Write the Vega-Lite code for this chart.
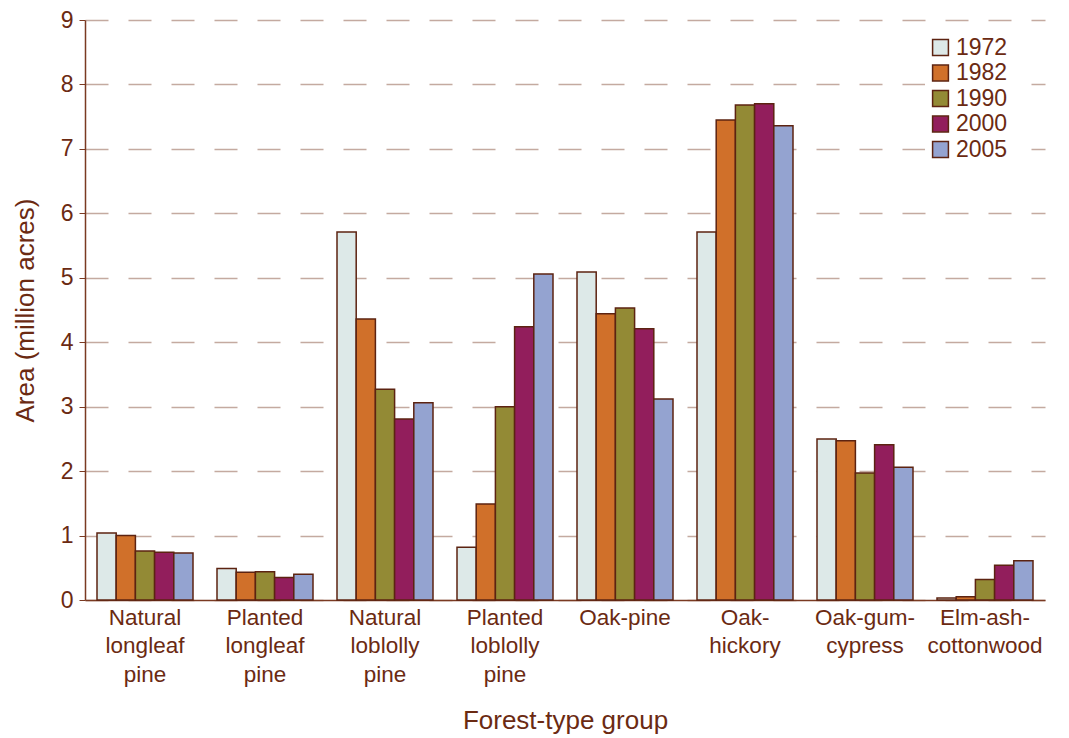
{
  "$schema": "https://vega.github.io/schema/vega-lite/v6.json",
  "autosize": {"type": "none"},
  "width": 960,
  "height": 580,
  "padding": {"left": 85, "top": 20, "right": 24, "bottom": 138},
  "background": "white",
  "config": {
    "font": "Liberation Sans",
    "view": {"stroke": null},
    "axis": {"labelColor": "#6b2a12", "titleColor": "#6b2a12", "domainColor": "#7a3a22", "tickColor": "#7a3a22", "labelFont": "Liberation Sans", "titleFont": "Liberation Sans", "titleFontWeight": "normal"}
  },
  "data": {
    "values": [
      {"group": "Natural longleaf pine", "year": "1972", "area": 1.04},
      {"group": "Natural longleaf pine", "year": "1982", "area": 1.0},
      {"group": "Natural longleaf pine", "year": "1990", "area": 0.76},
      {"group": "Natural longleaf pine", "year": "2000", "area": 0.74},
      {"group": "Natural longleaf pine", "year": "2005", "area": 0.73},
      {"group": "Planted longleaf pine", "year": "1972", "area": 0.49},
      {"group": "Planted longleaf pine", "year": "1982", "area": 0.43},
      {"group": "Planted longleaf pine", "year": "1990", "area": 0.44},
      {"group": "Planted longleaf pine", "year": "2000", "area": 0.35},
      {"group": "Planted longleaf pine", "year": "2005", "area": 0.40},
      {"group": "Natural loblolly pine", "year": "1972", "area": 5.71},
      {"group": "Natural loblolly pine", "year": "1982", "area": 4.36},
      {"group": "Natural loblolly pine", "year": "1990", "area": 3.27},
      {"group": "Natural loblolly pine", "year": "2000", "area": 2.81},
      {"group": "Natural loblolly pine", "year": "2005", "area": 3.06},
      {"group": "Planted loblolly pine", "year": "1972", "area": 0.82},
      {"group": "Planted loblolly pine", "year": "1982", "area": 1.49},
      {"group": "Planted loblolly pine", "year": "1990", "area": 3.0},
      {"group": "Planted loblolly pine", "year": "2000", "area": 4.24},
      {"group": "Planted loblolly pine", "year": "2005", "area": 5.06},
      {"group": "Oak-pine", "year": "1972", "area": 5.09},
      {"group": "Oak-pine", "year": "1982", "area": 4.44},
      {"group": "Oak-pine", "year": "1990", "area": 4.53},
      {"group": "Oak-pine", "year": "2000", "area": 4.21},
      {"group": "Oak-pine", "year": "2005", "area": 3.12},
      {"group": "Oak-hickory", "year": "1972", "area": 5.71},
      {"group": "Oak-hickory", "year": "1982", "area": 7.45},
      {"group": "Oak-hickory", "year": "1990", "area": 7.68},
      {"group": "Oak-hickory", "year": "2000", "area": 7.7},
      {"group": "Oak-hickory", "year": "2005", "area": 7.36},
      {"group": "Oak-gum-cypress", "year": "1972", "area": 2.5},
      {"group": "Oak-gum-cypress", "year": "1982", "area": 2.47},
      {"group": "Oak-gum-cypress", "year": "1990", "area": 1.97},
      {"group": "Oak-gum-cypress", "year": "2000", "area": 2.41},
      {"group": "Oak-gum-cypress", "year": "2005", "area": 2.06},
      {"group": "Elm-ash-cottonwood", "year": "1972", "area": 0.03},
      {"group": "Elm-ash-cottonwood", "year": "1982", "area": 0.05},
      {"group": "Elm-ash-cottonwood", "year": "1990", "area": 0.32},
      {"group": "Elm-ash-cottonwood", "year": "2000", "area": 0.54},
      {"group": "Elm-ash-cottonwood", "year": "2005", "area": 0.61}
    ]
  },
  "mark": {"type": "bar", "stroke": "#5c2311", "strokeWidth": 1.5},
  "encoding": {
    "x": {
      "field": "group",
      "type": "nominal",
      "sort": null,
      "scale": {"paddingInner": 0.2, "paddingOuter": 0.1},
      "axis": {
        "title": "Forest-type group",
        "titleFontSize": 26,
        "titlePadding": 22,
        "labelFontSize": 22.5,
        "labelAngle": 0,
        "labelLineHeight": 28.5,
        "labelPadding": 6,
        "ticks": false,
        "domainWidth": 1.5,
        "labelExpr": "{'Natural longleaf pine':['Natural','longleaf','pine'],'Planted longleaf pine':['Planted','longleaf','pine'],'Natural loblolly pine':['Natural','loblolly','pine'],'Planted loblolly pine':['Planted','loblolly','pine'],'Oak-pine':['Oak-pine'],'Oak-hickory':['Oak-','hickory'],'Oak-gum-cypress':['Oak-gum-','cypress'],'Elm-ash-cottonwood':['Elm-ash-','cottonwood']}[datum.value]"
      }
    },
    "xOffset": {"field": "year", "type": "nominal", "scale": {"paddingInner": 0, "paddingOuter": 0}},
    "y": {
      "field": "area",
      "type": "quantitative",
      "scale": {"domain": [0, 9], "nice": false},
      "axis": {
        "title": "Area (million acres)",
        "titleFontSize": 26,
        "titlePadding": 22,
        "labelFontSize": 23,
        "labelPadding": 6,
        "tickSize": 6,
        "values": [0, 1, 2, 3, 4, 5, 6, 7, 8, 9],
        "labelOverlap": false,
        "domainWidth": 1.5,
        "grid": true,
        "gridColor": "#c4aaa0",
        "gridWidth": 1.5,
        "gridDash": [23, 20]
      }
    },
    "fill": {
      "field": "year",
      "type": "nominal",
      "scale": {"domain": ["1972", "1982", "1990", "2000", "2005"], "range": ["#dde9e8", "#d0702a", "#938a35", "#921e5c", "#94a3d0"]},
      "legend": {
        "title": null,
        "orient": "none",
        "legendX": 840,
        "legendY": 12,
        "symbolType": "square",
        "symbolSize": 250,
        "symbolStrokeColor": "#5c2311",
        "symbolStrokeWidth": 1.5,
        "labelFontSize": 23,
        "labelColor": "#6b2a12",
        "labelFont": "Liberation Sans",
        "labelOffset": 4,
        "rowPadding": 1.5,
        "fillColor": "white",
        "padding": 4
      }
    }
  }
}
